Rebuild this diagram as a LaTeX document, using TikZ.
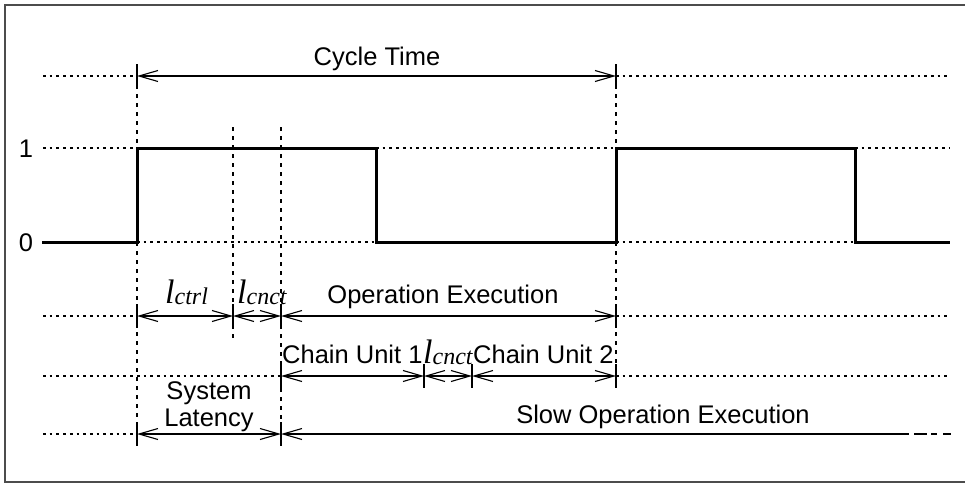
\documentclass[tikz,border=0pt]{standalone}
\usepackage{fontspec}
\setmainfont{Liberation Sans}
\newfontfamily\serifface{Liberation Serif}
\usetikzlibrary{arrows.meta}
% italic length symbol with subscript, e.g. l_ctrl
\newcommand\lvar[1]{{\serifface\itshape\fontsize{34}{34}\selectfont l\fontsize{24}{24}\selectfont\raisebox{-1.5pt}{#1}}}

\begin{document}
\begin{tikzpicture}[x=1pt,y=-1pt,
  frame/.style={draw=black!70, line width=1.8pt},
  signal/.style={line width=3pt, line join=miter},
  guide/.style={line width=1.1pt, dash pattern=on 2.7pt off 4pt},
  vguide/.style={line width=1.3pt, dash pattern=on 3.5pt off 5.5pt},
  tickline/.style={line width=1.1pt},
  barb/.tip={Straight Barb[length=19pt,width=11pt,line width=1.1pt]},
  dim/.style={line width=1.1pt, barb-barb},
  ldim/.style={line width=1.1pt, barb-},
  lbl/.style={inner sep=0pt, font=\fontsize{25.5}{27}\selectfont},
]
\useasboundingbox (0,0) rectangle (965,485);

% outer frame (right side runs off the page)
\draw[frame] (975,5) -- (5,5) -- (5,482) -- (975,482);

% ---- key x positions and row levels ----
% rows: cycle 76, high 148, low 242, operation 316, chain 376, slow 434
\coordinate (ctL)  at (137,76);  \coordinate (ctR)  at (616,76);
\coordinate (ctGL) at (43,76);   \coordinate (ctGR) at (950,76);

\coordinate (hiGL) at (43,148);  \coordinate (hiA)  at (137,148);
\coordinate (hiD)  at (376,148); \coordinate (hiE)  at (616,148);
\coordinate (hiF)  at (855,148); \coordinate (hiGR) at (950,148);

\coordinate (loS)  at (42,242);  \coordinate (loA)  at (137,242);
\coordinate (loD)  at (376,242); \coordinate (loE)  at (616,242);
\coordinate (loF)  at (855,242); \coordinate (loG)  at (950,242);

\coordinate (opGL) at (43,316);  \coordinate (opA)  at (137,316);
\coordinate (opB)  at (233,316); \coordinate (opC)  at (281,316);
\coordinate (opE)  at (616,316); \coordinate (opGR) at (950,316);

\coordinate (chGL) at (43,376);  \coordinate (chC)  at (281,376);
\coordinate (chP)  at (424,376); \coordinate (chQ)  at (472,376);
\coordinate (chE)  at (616,376); \coordinate (chGR) at (950,376);

\coordinate (slGL) at (43,434);  \coordinate (slA)  at (137,434);
\coordinate (slC)  at (281,434); \coordinate (slZ)  at (909,434);

% ---- horizontal guide lines ----
\draw[guide] (ctGL) -- (ctL);  \draw[guide] (ctR) -- (ctGR);
\draw[guide] (hiGL) -- (hiA);  \draw[guide] (hiD) -- (hiE);
\draw[guide] (hiF) -- (hiGR);
\draw[guide] (loA) -- (loD);   \draw[guide] (loE) -- (loF);
\draw[guide] (opGL) -- (opA);  \draw[guide] (opE) -- (opGR);
\draw[guide] (chGL) -- (chC);  \draw[guide] (chE) -- (chGR);
\draw[guide] (slGL) -- (slA);

% ---- vertical guide lines ----
\coordinate (vA1) at (137,447);
\coordinate (vB0) at (233,127); \coordinate (vB1) at (233,340);
\coordinate (vC0) at (281,127); \coordinate (vC1) at (281,447);
\coordinate (vE1) at (616,386);
\draw[vguide] (ctL) -- (hiA);  \draw[vguide] (loA) -- (vA1);
\draw[vguide] (vB0) -- (vB1);
\draw[vguide] (vC0) -- (vC1);
\draw[vguide] (ctR) -- (hiE);  \draw[vguide] (loE) -- (vE1);

% ---- signal ----
\draw[signal] (loS) -- (loA) -- (hiA) -- (hiD) -- (loD) -- (loE)
  -- (hiE) -- (hiF) -- (loF) -- (loG);

% ---- end ticks ----
\foreach \p in {ctL,ctR,opA,opB,opC,opE,chC,chP,chQ,chE,slA,slC}
  \draw[tickline] (\p) ++(0,-12) -- ++(0,24);

% ---- dimension arrows ----
\draw[dim] (ctL) -- (ctR);
\draw[dim] (opA) -- (opB);
\draw[dim] (opB) -- (opC);
\draw[dim] (opC) -- (opE);
\draw[dim] (chC) -- (chP);
\draw[dim] (chP) -- (chQ);
\draw[dim] (chQ) -- (chE);
\draw[dim] (slA) -- (slC);
\draw[ldim] (slC) -- (slZ);
\coordinate (sd1a) at (914,434); \coordinate (sd1b) at (927,434);
\coordinate (sd2a) at (931,434); \coordinate (sd2b) at (937,434);
\coordinate (sd3a) at (943,434); \coordinate (sd3b) at (951,434);
\draw[line width=1.1pt] (sd1a) -- (sd1b) (sd2a) -- (sd2b) (sd3a) -- (sd3b);

% ---- labels ----
\node[lbl, anchor=base] (tcyc) at (377,65) {Cycle Time};
\node[lbl, anchor=base] (tone) at (26,157) {1};
\node[lbl, anchor=base] (tzero) at (26,251) {0};
\node[inner sep=0pt, anchor=base west] (tctrl) at (165,303) {\lvar{ctrl}};
\node[inner sep=0pt, anchor=base west] (tcn1) at (237,303) {\lvar{cnct}};
\node[lbl, anchor=base] (top) at (443,303) {Operation Execution};
\node[lbl, anchor=base west] (tcu1) at (282,363) {Chain Unit 1};
\node[inner sep=0pt, anchor=base west] (tcn2) at (423,363) {\lvar{cnct}};
\node[lbl, anchor=base west] (tcu2) at (473,363) {Chain Unit 2};
\node[lbl, anchor=base] (tsys) at (209,399) {System};
\node[lbl, anchor=base] (tlat) at (209,426) {Latency};
\node[lbl, anchor=base] (tslow) at (663,423) {Slow Operation Execution};
\end{tikzpicture}
\end{document}
